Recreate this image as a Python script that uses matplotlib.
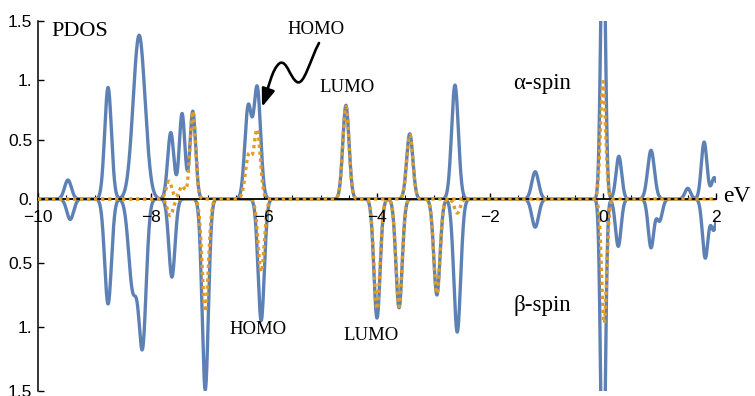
import numpy as np
import matplotlib
matplotlib.use("Agg")
import matplotlib.pyplot as plt
from matplotlib.patches import FancyArrowPatch, ArrowStyle
from matplotlib.path import Path

# ---------------- data (peak centre eV, height, broadening eV) ----------------
alpha_total_E = [-9.47, -8.76, -8.21, -7.65, -7.45, -7.26, -6.28, -6.12, -4.55, -3.42,
                 -2.62, -1.20, 0.00, 0.28, 0.85, 1.50, 1.79, 1.97]
alpha_total_H = [0.16, 0.94, 1.38, 0.56, 0.72, 0.74, 0.77, 0.93, 0.79, 0.55,
                 0.96, 0.23, 2.50, 0.36, 0.41, 0.09, 0.48, 0.18]
alpha_total_W = [0.06, 0.06, 0.105, 0.055, 0.05, 0.05, 0.06, 0.06, 0.055, 0.055,
                 0.06, 0.06, 0.04, 0.05, 0.06, 0.05, 0.05, 0.05]

alpha_part_E = [-7.68, -7.45, -7.26, -6.27, -6.12, -4.55, -3.42, 0.00]
alpha_part_H = [0.15, 0.11, 0.74, 0.37, 0.57, 0.78, 0.54, 0.99]
alpha_part_W = [0.05, 0.05, 0.05, 0.06, 0.055, 0.055, 0.055, 0.045]

beta_total_E = [-9.43, -8.76, -8.32, -8.15, -7.63, -7.04, -6.05, -4.00, -3.61, -2.94,
                -2.58, -1.20, 0.00, 0.27, 0.85, 1.00, 1.81, 1.96]
beta_total_H = [0.16, 0.82, 0.70, 1.12, 0.61, 1.49, 0.95, 0.93, 0.85, 0.75,
                1.04, 0.22, 2.50, 0.37, 0.38, 0.17, 0.46, 0.24]
beta_total_W = [0.06, 0.06, 0.075, 0.065, 0.055, 0.055, 0.055, 0.055, 0.055, 0.055,
                0.06, 0.06, 0.04, 0.05, 0.05, 0.05, 0.05, 0.05]

beta_part_E = [-7.66, -7.04, -6.05, -4.00, -3.61, -2.94, -2.58, 0.02]
beta_part_H = [0.13, 0.88, 0.57, 0.86, 0.84, 0.74, 0.11, 0.97]
beta_part_W = [0.05, 0.055, 0.055, 0.055, 0.055, 0.055, 0.05, 0.045]

x_ticks = [-10, -8, -6, -4, -2, 0, 2]
x_ticklabels = ["\u221210", "\u22128", "\u22126", "\u22124", "\u22122", "0", "2"]
y_top_ticks = [0, 0.5, 1.0, 1.5]
y_top_labels = ["0.", "0.5", "1.", "1.5"]
y_bot_ticks = [-0.5, -1.0, -1.5]
y_bot_labels = ["0.5", "1.", "1.5"]

E = np.linspace(-10, 2, 4000)


def broaden(centres, heights, widths):
    out = np.zeros_like(E)
    for c, h, w in zip(centres, heights, widths):
        out += h * np.exp(-0.5 * ((E - c) / w) ** 2)
    return out


a_tot = broaden(alpha_total_E, alpha_total_H, alpha_total_W)
a_prt = broaden(alpha_part_E, alpha_part_H, alpha_part_W)
b_tot = -broaden(beta_total_E, beta_total_H, beta_total_W)
b_prt = -broaden(beta_part_E, beta_part_H, beta_part_W)

BLUE = "#5E81B5"
ORANGE = "#E19C24"
W, H = 755, 396

fig = plt.figure(figsize=(W / 100, H / 100), dpi=100)
fig.patch.set_facecolor("white")

x0, x1 = 38, 716
y_top, y_zero, y_bot = 21, 199, 391

axb = fig.add_axes([x0 / W, 1 - y_bot / H, (x1 - x0) / W, (y_bot - y_zero) / H])
axt = fig.add_axes([x0 / W, 1 - y_zero / H, (x1 - x0) / W, (y_zero - y_top) / H])

tick_font = dict(family=["Liberation Sans", "DejaVu Sans"], size=12.5)

for ax in (axb, axt):
    ax.patch.set_alpha(0)
    ax.set_xlim(-10, 2)
    for s in ("top", "right"):
        ax.spines[s].set_visible(False)
    ax.spines["left"].set_linewidth(1.1)

dot = (0, (1, 1.1))
LW = 2.4

# bottom (beta)
axb.plot(E, b_tot, color=BLUE, lw=LW, zorder=2, solid_joinstyle="round")
axb.plot(E, b_prt, color=ORANGE, lw=LW, ls=dot, zorder=3, dash_capstyle="butt")
axb.set_ylim(-1.5, 0)
axb.spines["bottom"].set_visible(False)
axb.set_xticks([])
axb.set_yticks(y_bot_ticks)
axb.set_yticklabels(y_bot_labels, **tick_font)
axb.tick_params(axis="y", direction="in", length=4, width=1, pad=4)

# top (alpha)
axt.plot(E, a_tot, color=BLUE, lw=LW, zorder=2, solid_joinstyle="round")
axt.axhline(0, color="black", lw=1.3, zorder=2.5, clip_on=False)
axt.plot(E, a_prt, color=ORANGE, lw=LW, ls=dot, zorder=3, clip_on=False, dash_capstyle="butt")
axt.set_ylim(0, 1.5)
axt.spines["bottom"].set_visible(False)
axt.set_yticks(y_top_ticks)
axt.set_yticklabels(y_top_labels, **tick_font)
axt.tick_params(axis="y", direction="in", length=4, width=1, pad=4)
axt.set_xticks(x_ticks)
axt.set_xticklabels(x_ticklabels, **tick_font)
axt.set_xticks(np.arange(-10, 2.01, 0.5), minor=True)
axt.tick_params(axis="x", which="major", direction="in", length=4, width=1, pad=8)
axt.tick_params(axis="x", which="minor", direction="in", length=3, width=0.8)

serif = ["Liberation Serif", "DejaVu Serif"]


def ftext(px, py, s, size, **kw):
    fig.text(px / W, 1 - py / H, s, family=serif, size=size, ha="center", va="center", **kw)


ftext(80, 31, "PDOS", 16)
ftext(316, 29, "HOMO", 13.5)
ftext(347, 87, "LUMO", 13.5)
ftext(542, 83, "\u03b1-spin", 16.5)
ftext(542, 305, "\u03b2-spin", 16.5)
ftext(258, 329, "HOMO", 13.5)
ftext(371, 335, "LUMO", 13.5)
ftext(737, 196, "eV", 17)

# squiggly arrow pointing at HOMO
pts = [(319, 43), (310, 60), (304, 86), (297, 82),
       (290, 78), (287, 60), (280, 63),
       (272, 68), (268, 90), (262, 107)]
verts = [(px / W, 1 - py / H) for px, py in pts]
codes = [Path.MOVETO] + [Path.CURVE4] * 9
arrow = FancyArrowPatch(path=Path(verts, codes), transform=fig.transFigure,
                        arrowstyle=ArrowStyle("-|>", head_length=0.6, head_width=0.22),
                        mutation_scale=18, color="black", lw=1.9)
fig.patches.append(arrow)

fig.savefig("out.png", dpi=100)
